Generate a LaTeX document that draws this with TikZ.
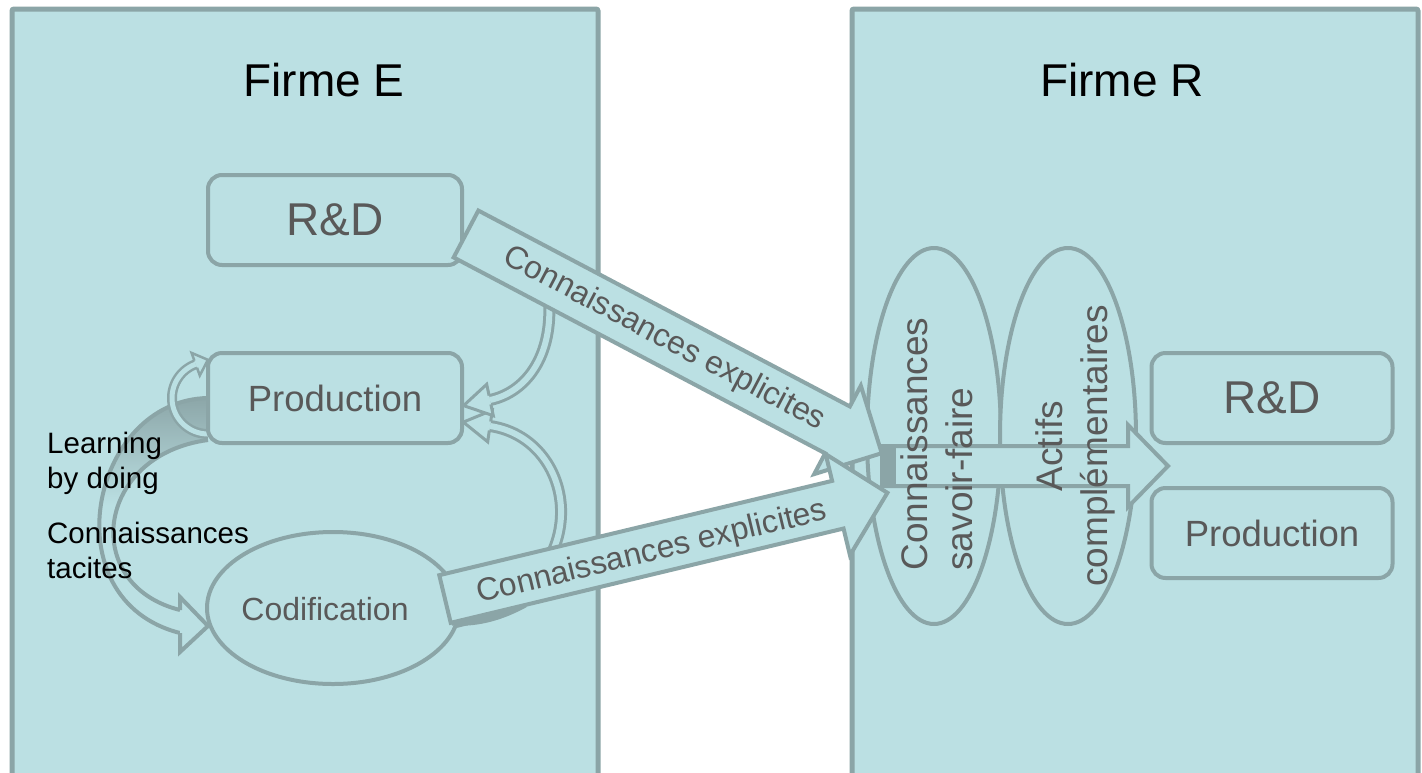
\documentclass[tikz,border=0pt]{standalone}
\usepackage{fontspec}
\setmainfont{Liberation Sans}
\usetikzlibrary{shapes.geometric,calc}
\definecolor{fillc}{RGB}{187,224,227}
\definecolor{linec}{RGB}{139,165,167}
\definecolor{textg}{RGB}{89,89,89}
\begin{document}
\begin{tikzpicture}[x=1pt,y=-1pt,
  panel/.style={draw=linec,fill=fillc,line width=5pt,rounded corners=2pt},
  box/.style={draw=linec,fill=fillc,line width=4pt,rounded corners=14pt,
    minimum height=90pt,text=textg,inner sep=0pt},
  oval/.style={ellipse,draw=linec,fill=fillc,line width=4pt,inner sep=0pt},
  blockarrow/.style={draw=linec,fill=fillc,line width=4pt,line join=miter},
  tube/.style={draw=linec,line width=3pt,double=fillc,double distance=6pt},
  headfill/.style={fill=fillc,draw=linec,line width=3pt,line join=miter},
  edge/.style={draw=linec,line width=4pt},
  title/.style={font=\fontsize{46}{55}\selectfont,text=black},
  lbl/.style={font=\fontsize{32}{38}\selectfont,text=textg,inner sep=0pt},
  vtxt/.style={font=\fontsize{37}{45}\selectfont,text=textg,rotate=90,inner sep=0pt},
  side/.style={font=\fontsize{29.5}{35}\selectfont,text=black,align=left,inner sep=0pt,anchor=north west}
]
\useasboundingbox (0,0) rectangle (1422,772);
\fill[white] (0,0) rectangle (1422,772);

% panels
\draw[panel] (12,9) rectangle (598,800);
\draw[panel] (852,9) rectangle (1418,800);

% big loop arrow (learning by doing)
\path[fill=fillc] (208,398) .. controls (90,400) and (50,600) .. (180,633)
   -- (180,610) .. controls (80,585) and (95,455) .. (208,440) -- cycle;
\begin{scope}
  \clip (208,398) .. controls (90,400) and (50,600) .. (180,633)
   -- (180,610) .. controls (80,585) and (95,455) .. (208,440) -- cycle;
  \shade[top color=linec,bottom color=fillc] (40,395) rectangle (212,505);
\end{scope}
\draw[edge] (208,398) .. controls (90,400) and (50,600) .. (180,633);
\draw[edge] (180,610) .. controls (80,585) and (95,455) .. (208,440);
\filldraw[fill=fillc,draw=linec,line width=4pt,line join=miter]
  (180,633) -- (180,652) -- (208,626) -- (180,597) -- (180,610);

% small circular arrow
\draw[draw=linec,line width=2.5pt,double=fillc,double distance=5pt]
  plot[domain=90:250,samples=40] ({208+36*cos(\x)},{398+36*sin(\x)});
\filldraw[fill=fillc,draw=linec,line width=2.5pt,line join=miter]
  (197,367.7) -- (199.8,375.5) -- (207.9,359.8) -- (191.6,352.9) -- (194.4,360.7);

% curved arrows into Production
\draw[tube] (440,625) .. controls (600,600) and (585,440) .. (490,426);
\filldraw[headfill] (490.7,421.5) -- (492.3,410.2) -- (463.3,422.1) -- (487.7,441.8) -- (489.3,430.5);
\draw[tube] (548,290) .. controls (556,352) and (528,392) .. (490,400);
\filldraw[headfill] (490.9,404.4) -- (493.3,415.7) -- (463.6,405.6) -- (486.7,384.3) -- (489.1,395.6);

% boxes Firme E
\node[box,minimum width=254pt,font=\fontsize{46}{55}\selectfont] (rdE) at (335,220) {R\&D};
\node[box,minimum width=254pt,font=\fontsize{36.5}{44}\selectfont] (prodE) at (335,398) {Production};
\node[oval,minimum width=252pt,minimum height=152pt] (codE) at (333,608) {};
\draw[linec,line width=7pt] (452,622) .. controls (480,624) and (505,615) .. (525,604);

% ellipses Firme R
\node[oval,minimum width=134pt,minimum height=376pt] (ksf) at (934,436) {};
\node[oval,minimum width=136pt,minimum height=376pt] (act) at (1068,436) {};

% boxes Firme R
\node[box,minimum width=241pt,font=\fontsize{46}{55}\selectfont] (rdR) at (1272,398) {R\&D};
\node[box,minimum width=241pt,font=\fontsize{36.5}{44}\selectfont] (prodR) at (1272,533) {Production};

% diagonal block arrows
\begin{scope}[shift={(466,234)},rotate=-27.8]
  \draw[blockarrow] (0,-26.5) -- (420,-26.5) -- (420,-50) -- (470,0)
     -- (420,50) -- (420,26.5) -- (0,26.5) -- cycle;
\end{scope}
\begin{scope}[shift={(445,599)},rotate=13.5]
  \draw[blockarrow] (0,-24.5) -- (404,-24.5) -- (404,-52) -- (455,0)
     -- (404,52) -- (404,24.5) -- (0,24.5) -- cycle;
\end{scope}

% horizontal arrow
\draw[blockarrow] (882,446) -- (1128,446) -- (1128,425) -- (1168,466)
   -- (1128,507) -- (1128,486) -- (882,486) -- cycle;
\fill[linec] (880,446) rectangle (896,486);

% texts
\node[title] (tE) at (324,80) {Firme E};
\node[title] (tR) at (1122,80) {Firme R};
\node[lbl] (cod) at (325,609) {Codification};
\node[lbl,rotate=-27.8] (ce1) at (664,339) {Connaissances explicites};
\node[lbl,rotate=13.5] (ce2) at (652,553) {Connaissances explicites};
\node[vtxt,align=left] (t1) at (937,444) {Connaissances\\savoir-faire};
\node[vtxt,align=center] (t2) at (1075,446) {Actifs\\complémentaires};
\node[side] (lbd) at (47,432) {Learning\\by doing};
\node[side] (ct) at (47,522) {Connaissances\\tacites};
\end{tikzpicture}
\end{document}
